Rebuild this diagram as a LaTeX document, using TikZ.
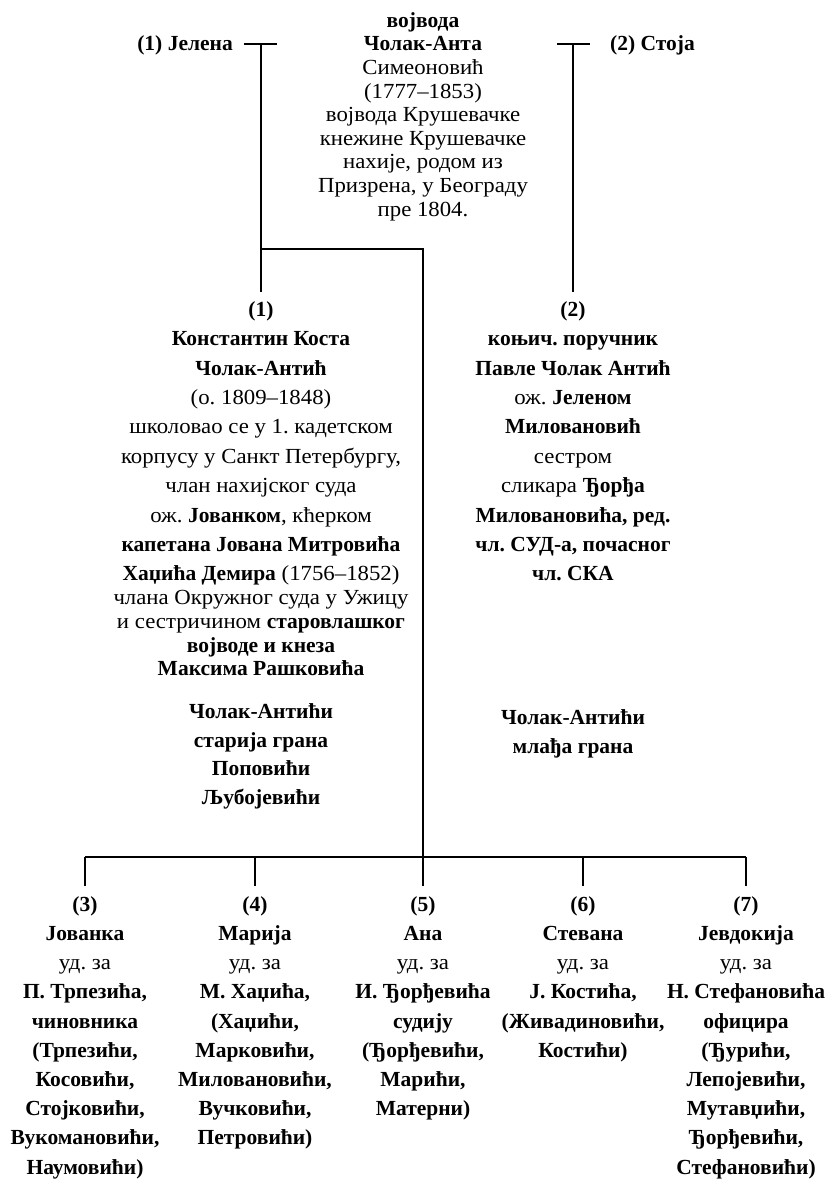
\documentclass[tikz,border=0pt]{standalone}
\usepackage{fontspec}
\setmainfont{Liberation Serif}[UprightFeatures={FakeStretch=1.06}]
\frenchspacing
\begin{document}
\begin{tikzpicture}[x=1pt,y=-1pt,
  txt/.style={inner sep=0pt, align=center, anchor=north, font=\fontsize{21.5}{29.4}\selectfont},
  toptxt/.style={txt, font=\fontsize{21.5}{23.6}\selectfont},
  boldtxt/.style={txt, font=\fontsize{21.5}{28.8}\selectfont\bfseries},
  side/.style={inner sep=0pt, font=\fontsize{21.5}{23.6}\selectfont\bfseries},
  ln/.style={line width=1.1pt, black}]
\useasboundingbox (0,0) rectangle (827,1180);
\newcommand{\fs}{\rule{0pt}{17pt}}
% top
\node[toptxt] (anta) at (423,27-17) {\fs\textbf{војвода}\\ \textbf{Чолак-Анта}\\ Симеоновић\\ (1777–1853)\\ војвода Крушевачке\\ кнежине Крушевачке\\ нахије, родом из\\ Призрена, у Београду\\ пре 1804.};
\node[side, anchor=base east] (jel) at (233,51) {(1) Јелена};
\node[side, anchor=base west] (sto) at (610,51) {(2) Стоја};
% wives connectors
\coordinate (jl) at (244,44); \coordinate (jr) at (277,44);
\coordinate (jt) at (261,44); \coordinate (jb) at (261,292);
\coordinate (jm) at (261,249); \coordinate (cm) at (423,249);
\coordinate (sl) at (557,44); \coordinate (sr) at (590,44);
\coordinate (st) at (573,44); \coordinate (sb) at (573,292);
\draw[ln] (jl) -- (jr);
\draw[ln] (jt) -- (jb);
\draw[ln] (sl) -- (sr);
\draw[ln] (st) -- (sb);
% son 1
\node[txt] (s1) at (261,316-17) {\fs\textbf{(1)}\\
\textbf{Константин Коста}\\
\textbf{Чолак-Антић}\\
(о. 1809–1848)\\
школовао се у 1. кадетском\\
корпусу у Санкт Петербургу,\\
члан нахијског суда\\
ож. \textbf{Јованком}, кћерком\\
\textbf{капетана Јована Митровића}\\
\textbf{Хаџића Демира} (1756–1852)\\[-5.65pt]
члана Окружног суда у Ужицу\\[-5.65pt]
и сестричином \textbf{старовлашког}\\[-5.65pt]
\textbf{војводе и кнеза}\\[-5.65pt]
\textbf{Максима Рашковића}};
\node[boldtxt] (b1) at (261,718-17) {\fs Чолак-Антићи\\ старија грана\\ Поповићи\\ Љубојевићи};
% son 2
\node[txt] (s2) at (573,316-17) {\fs\textbf{(2)}\\
\textbf{коњич. поручник}\\
\textbf{Павле Чолак Антић}\\
ож. \textbf{Јеленом}\\
\textbf{Миловановић}\\
сестром\\
сликара \textbf{Ђорђа}\\
\textbf{Миловановића, ред.}\\
\textbf{чл. СУД-а, почасног}\\
\textbf{чл. СКА}};
\node[boldtxt] (b2) at (573,724-17) {\fs Чолак-Антићи\\ млађа грана};
% children
\node[txt, font=\fontsize{21.5}{29.2}\selectfont] (c3) at (85,911-17) {\fs\textbf{(3)}\\ \textbf{Јованка}\\ уд. за\\ \textbf{П. Трпезића,}\\ \textbf{чиновника}\\ \textbf{(Трпезићи,}\\ \textbf{Косовићи,}\\ \textbf{Стојковићи,}\\ \textbf{Вукомановићи,}\\ \textbf{Наумовићи)}};
\node[txt, font=\fontsize{21.5}{29.2}\selectfont] (c4) at (255,911-17) {\fs\textbf{(4)}\\ \textbf{Марија}\\ уд. за\\ \textbf{М. Хаџића,}\\ \textbf{(Хаџићи,}\\ \textbf{Марковићи,}\\ \textbf{Миловановићи,}\\ \textbf{Вучковићи,}\\ \textbf{Петровићи)}};
\node[txt, font=\fontsize{21.5}{29.2}\selectfont] (c5) at (423,911-17) {\fs\textbf{(5)}\\ \textbf{Ана}\\ уд. за\\ \textbf{И. Ђорђевића}\\ \textbf{судију}\\ \textbf{(Ђорђевићи,}\\ \textbf{Марићи,}\\ \textbf{Матерни)}};
\node[txt, font=\fontsize{21.5}{29.2}\selectfont] (c6) at (583,911-17) {\fs\textbf{(6)}\\ \textbf{Стевана}\\ уд. за\\ \textbf{Ј. Костића,}\\ \textbf{(Живадиновићи,}\\ \textbf{Костићи)}};
\node[txt, font=\fontsize{21.5}{29.2}\selectfont] (c7) at (746,911-17) {\fs\textbf{(7)}\\ \textbf{Јевдокија}\\ уд. за\\ \textbf{Н. Стефановића}\\ \textbf{официра}\\ \textbf{(Ђурићи,}\\ \textbf{Лепојевићи,}\\ \textbf{Мутавџићи,}\\ \textbf{Ђорђевићи,}\\ \textbf{Стефановићи)}};
% descent connectors
\coordinate (bl) at (85,857); \coordinate (br) at (746,857);
\draw[ln] (jm) -- (cm) -- (c5.north |- 0,886);
\draw[ln] (bl) -- (br);
\foreach \c in {c4,c6}{\draw[ln] (\c.north |- bl) -- (\c.north |- 0,886);}
\draw[ln] (bl) -- (c3.north |- 0,886);
\draw[ln] (br) -- (c7.north |- 0,886);
\end{tikzpicture}
\end{document}
